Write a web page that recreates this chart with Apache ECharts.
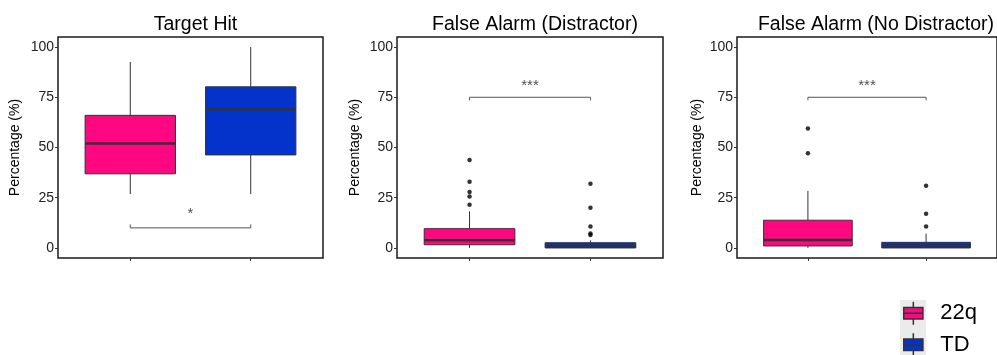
<!DOCTYPE html>
<html>
<head>
<meta charset="utf-8">
<script src="https://cdn.jsdelivr.net/npm/echarts@6/dist/echarts.min.js"></script>
<style>
  html, body { margin: 0; padding: 0; background: #fff; }
  #chart { width: 997px; height: 355px; }
</style>
</head>
<body>
<div id="chart"></div>
<script>
// groups sit at x = 1, 2 on a 0.4..2.6 value axis (ggplot discrete spacing)
const groups = ['22q', 'TD'];
const groupX = [1, 2];
const panelTitles = ['Target Hit', 'False Alarm (Distractor)', 'False Alarm (No Distractor)'];
const yTicks = [0, 25, 50, 75, 100];

// [min, Q1, median, Q3, max] per panel
const box22q = [
  [26.8, 36.9, 52.0, 66.0, 92.6],
  [0, 1.6, 3.8, 9.6, 18.2],
  [0, 1.0, 4.0, 13.8, 28.4]
];
const boxTD = [
  [26.8, 46.3, 69.0, 80.2, 100],
  [0, 0, 1.0, 2.6, 3.8],
  [0, 0, 1.1, 2.8, 7.1]
];
const outliers22q = [
  [],
  [21.5, 25.6, 27.9, 33.0, 43.8],
  [47.1, 59.5]
];
const outliersTD = [
  [],
  [6.5, 7.2, 10.7, 20.0, 32.0],
  [10.7, 17.0, 30.9]
];

// significance brackets: bar level, tip level, label level, label
const sigBar = [10, 75, 75];
const sigTip = [11.7, 73.5, 73.5];
const sigTextY = [17, 80.5, 80.5];
const sigText = ['*', '***', '***'];

const PINK = '#FF0780';
const BLUE = '#0433CC';
const BOX_W = 0.75;

const chart = echarts.init(document.getElementById('chart'));

const gridPos = [
  { left: 58, top: 37, width: 265, height: 221 },
  { left: 397, top: 37, width: 266, height: 221 },
  { left: 737, top: 37, width: 268, height: 221 }
];
const nameGaps = [36, 35, 33];

function renderBox(params, api) {
  const x = api.value(0);
  const lo = api.coord([x, api.value(1)]);
  const q1 = api.coord([x, api.value(2)]);
  const md = api.coord([x, api.value(3)]);
  const q3 = api.coord([x, api.value(4)]);
  const hi = api.coord([x, api.value(5)]);
  const half = api.size([BOX_W, 0])[0] / 2;
  const line = (a, b, w) => ({
    type: 'line',
    shape: { x1: a[0], y1: a[1], x2: b[0], y2: b[1] },
    style: { stroke: '#333', lineWidth: w }
  });
  return {
    type: 'group',
    children: [
      line(lo, q1, 1),
      line(q3, hi, 1),
      {
        type: 'rect',
        shape: { x: q3[0] - half, y: q3[1], width: half * 2, height: q1[1] - q3[1] },
        style: { fill: api.visual('color'), stroke: '#333', lineWidth: 1 }
      },
      line([md[0] - half, md[1]], [md[0] + half, md[1]], 2.5)
    ]
  };
}

const grids = [], xAxes = [], yAxes = [], titles = [], series = [];

panelTitles.forEach((t, i) => {
  grids.push(Object.assign({ show: true, borderColor: '#1a1a1a', borderWidth: 1.5 }, gridPos[i]));
  titles.push({
    text: t,
    left: gridPos[i].left + gridPos[i].width / 2,
    top: 10,
    textAlign: 'center',
    textStyle: { fontSize: 19.5, fontWeight: 'normal', color: '#000', fontFamily: 'Liberation Sans' }
  });
  xAxes.push({
    gridIndex: i, type: 'value', min: 0.4, max: 2.6,
    axisLine: { show: false, onZero: false },
    axisTick: { show: true, length: 3, customValues: groupX, lineStyle: { color: '#333' } },
    axisLabel: { show: false },
    splitLine: { show: false }
  });
  yAxes.push({
    gridIndex: i, type: 'value', min: -5, max: 105,
    name: 'Percentage (%)', nameLocation: 'middle', nameRotate: 90, nameGap: nameGaps[i],
    nameTextStyle: { fontSize: 14, color: '#000', fontFamily: 'Liberation Sans' },
    axisLine: { show: false, onZero: false },
    axisTick: { show: true, length: 3, customValues: yTicks, lineStyle: { color: '#333' } },
    axisLabel: { customValues: yTicks, fontSize: 14, color: '#222', margin: 4, fontFamily: 'Liberation Sans' },
    splitLine: { show: false }
  });

  [box22q, boxTD].forEach((boxes, g) => {
    series.push({
      name: groups[g], type: 'custom', xAxisIndex: i, yAxisIndex: i,
      itemStyle: { color: g === 0 ? PINK : BLUE },
      renderItem: renderBox,
      encode: { x: 0, y: [1, 2, 3, 4, 5] },
      data: [[groupX[g]].concat(boxes[i])]
    });
  });
  [outliers22q, outliersTD].forEach((pts, g) => {
    series.push({
      name: groups[g], type: 'scatter', xAxisIndex: i, yAxisIndex: i,
      symbolSize: 4.5, itemStyle: { color: '#000' },
      data: pts[i].map(v => [groupX[g], v])
    });
  });
  series.push({
    type: 'line', xAxisIndex: i, yAxisIndex: i, symbol: 'none', silent: true,
    lineStyle: { color: '#555', width: 1 },
    data: [[groupX[0], sigTip[i]], [groupX[0], sigBar[i]], [groupX[1], sigBar[i]], [groupX[1], sigTip[i]]]
  });
  series.push({
    type: 'scatter', xAxisIndex: i, yAxisIndex: i, symbolSize: 0, silent: true,
    label: { show: true, position: 'inside', formatter: sigText[i], fontSize: 15, color: '#222' },
    data: [[(groupX[0] + groupX[1]) / 2, sigTextY[i]]]
  });
});

const legendIcon = 'path://M10,0L10,6M0,6L20,6L20,18L0,18ZM0,12L20,12M10,18L10,24';

const option = {
  animation: false,
  title: titles,
  grid: grids,
  xAxis: xAxes,
  yAxis: yAxes,
  graphic: [
    // light grey legend key backgrounds
    { type: 'rect', left: 900, top: 300, shape: { width: 26, height: 55 }, style: { fill: '#ebebeb' }, silent: true, z: -1 }
  ],
  legend: {
    orient: 'vertical', left: 903, top: 301, height: 120, padding: 0,
    itemWidth: 20, itemHeight: 23, itemGap: 7,
    icon: legendIcon,
    textStyle: { fontSize: 22, lineHeight: 23, color: '#000', padding: [0, 0, 0, 12], fontFamily: 'Liberation Sans' },
    data: [
      { name: '22q', itemStyle: { color: PINK, borderColor: '#333', borderWidth: 1.5 } },
      { name: 'TD', itemStyle: { color: BLUE, borderColor: '#333', borderWidth: 1.5 } }
    ]
  },
  series: series
};

chart.setOption(option);
</script>
</body>
</html>
